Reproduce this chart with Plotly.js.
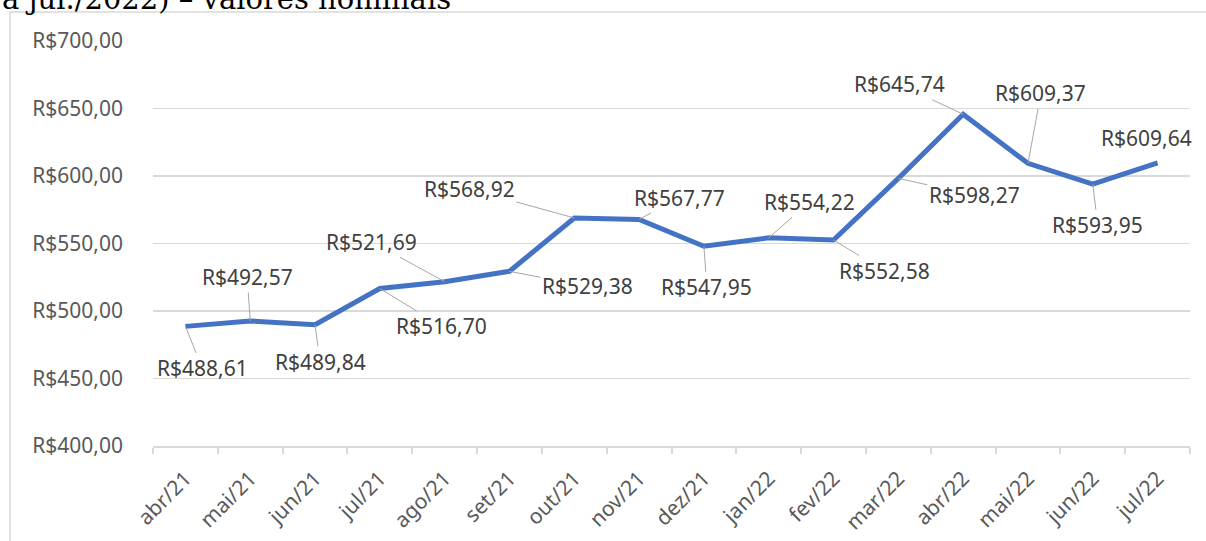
<!DOCTYPE html>
<html>
<head>
<meta charset="utf-8">
<script src="https://cdn.plot.ly/plotly-3.0.1.min.js"></script>
<style>html,body{margin:0;padding:0;background:#fff;}#chart{width:1206px;height:541px;}</style>
</head>
<body>
<div id="chart"></div>
<script>
const months = ["abr/21","mai/21","jun/21","jul/21","ago/21","set/21","out/21","nov/21","dez/21","jan/22","fev/22","mar/22","abr/22","mai/22","jun/22","jul/22"];
const values = [488.61,492.57,489.84,516.70,521.69,529.38,568.92,567.77,547.95,554.22,552.58,598.27,645.74,609.37,593.95,609.64];
const labelDx = [17,-3,5,62,-73,78,-105,40,3,41,51,76,-64,13,5,-11];
const labelDy = [42,-44,37,38,-40,15,-29,-22,41,-36,31,17,-30,-70,41,-25];
const yTickVals = [400,450,500,550,600,650,700];
const titleText = "a jul./2022) – valores nominais";

function brl(v){ return "R$" + v.toFixed(2).replace(".", ","); }

const annotations = values.map((v,i) => ({
  x: months[i], y: v, xref: "x", yref: "y",
  text: brl(v),
  showarrow: i !== values.length - 1,
  arrowhead: 0, arrowwidth: 1, arrowcolor: "#a6a6a6",
  ax: labelDx[i], ay: labelDy[i],
  xshift: i === values.length - 1 ? labelDx[i] : 0,
  yshift: i === values.length - 1 ? -labelDy[i] : 0,
  font: {family: "Noto Sans, sans-serif", size: 21, color: "#404040"}
}));
annotations.push({
  xref: "paper", yref: "paper", x: -0.1475, y: 1.058, xanchor: "left", yanchor: "bottom",
  text: titleText, showarrow: false,
  font: {family: "DejaVu Serif, serif", size: 29, color: "#000"}
});

const trace = {
  x: months, y: values, type: "scatter", mode: "lines",
  line: {color: "#4472C4", width: 5},
  hoverinfo: "skip"
};

const layout = {
  width: 1206, height: 541,
  margin: {l: 153, r: 16, t: 41, b: 95},
  paper_bgcolor: "#fff", plot_bgcolor: "#fff",
  showlegend: false,
  xaxis: {
    type: "category", range: [-0.5, 15.5],
    showgrid: false, zeroline: false,
    showline: true, linecolor: "#d9d9d9", linewidth: 2,
    ticks: "outside", tickson: "boundaries", ticklen: 6, tickcolor: "#d9d9d9", tickwidth: 2,
    tickangle: -45,
    ticklabelstandoff: 10,
    tickfont: {family: "Noto Sans, sans-serif", size: 21, color: "#595959"}
  },
  yaxis: {
    range: [400, 700], tickvals: yTickVals, ticktext: yTickVals.map(brl),
    showgrid: true, gridcolor: "#d9d9d9", gridwidth: 1.5,
    zeroline: false, showline: false, ticks: "",
    ticklabelstandoff: 29,
    tickfont: {family: "Noto Sans, sans-serif", size: 21, color: "#595959"}
  },
  shapes: [{
    type: "rect", xref: "paper", yref: "paper",
    x0: -0.1379, x1: 1.2, y0: -0.6, y1: 1.0716,
    line: {color: "#d9d9d9", width: 1.5}, fillcolor: "rgba(0,0,0,0)", layer: "below"
  }],
  annotations: annotations
};

Plotly.newPlot("chart", [trace], layout, {displayModeBar: false, staticPlot: true});
</script>
</body>
</html>
